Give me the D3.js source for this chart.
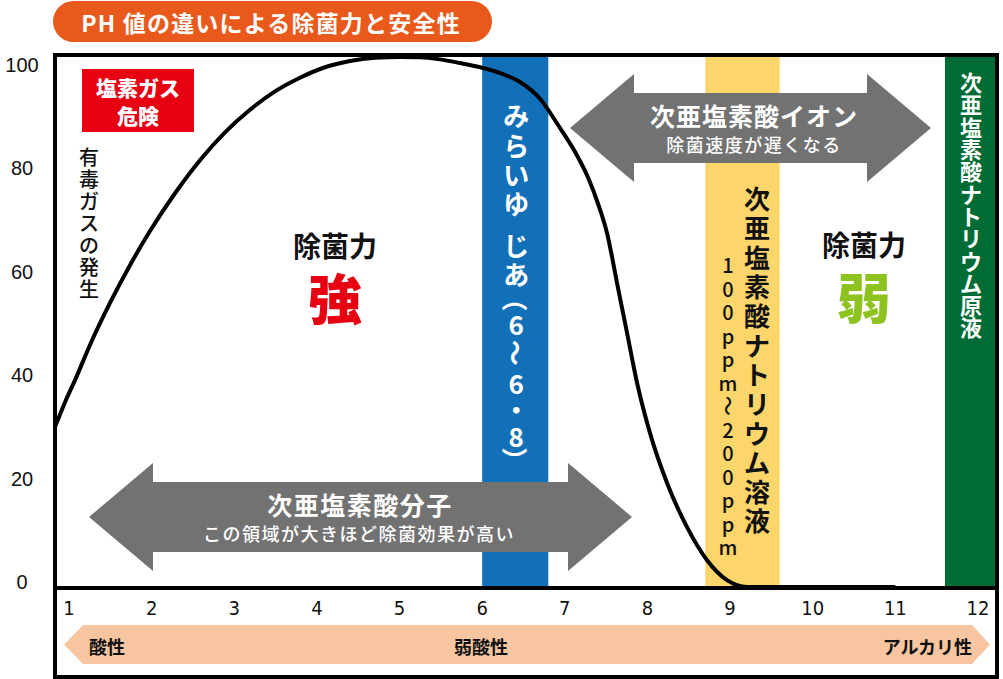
<!DOCTYPE html>
<html><head><meta charset="utf-8">
<script src="https://cdn.jsdelivr.net/npm/d3@7"></script>
<style>body{margin:0;background:#fff}svg{display:block}</style>
</head><body><svg id="c" width="1003" height="679"></svg>
<script>
// ---- data ----
const phTicks = [1,2,3,4,5,6,7,8,9,10,11,12];
const yTicks = [0,20,40,60,80,100];
const curvePH  = [0.831,0.952,1.073,1.254,1.496,1.738,1.980,2.283,2.585,2.888,3.190,3.493,3.795,4.098,4.400,4.703,5.006,5.248,5.490,5.732,5.974,6.216,6.458,6.700,6.918,7.123,7.281,7.402,7.511,7.632,7.753,7.874,8.031,8.237,8.479,8.721,8.963,9.205,10.0,11.0];
const curveVal = [30.5,35.2,39.4,46.1,54.1,61.3,67.8,75.0,81.3,86.6,90.9,94.4,97.0,99.0,100.2,100.8,100.95,100.9,100.5,99.8,99.0,97.9,96.2,93.0,88.0,82.9,78.0,73.0,67.4,57.9,48.4,38.9,29.3,19.8,11.4,5.1,1.3,0,0,0];
const bandNames = ["みらいゆ じあ（6〜6・8）","次亜塩素酸ナトリウム溶液","次亜塩素酸ナトリウム原液"];
const bandFrom = [6.0, 8.7, 11.6];
const bandTo   = [6.8, 9.6, 12.3];
const scaleNames = ["酸性","弱酸性","アルカリ性"];
const titleText = "PH 値の違いによる除菌力と安全性";

// ---- layout ----
const JP = "'Noto Sans CJK JP','Noto Sans',sans-serif";
const svg = d3.select("#c");
const frame = {l:55, t:55, r:997, b:677, div:588};
const x = d3.scaleLinear().domain([1,12]).range([69,978]);
const y = d3.scaleLinear().domain([0,100]).range([587,62]);
const yLab = d3.scaleLinear().domain([0,100]).range([582,65]);

svg.append("defs").append("clipPath").attr("id","plot")
  .append("rect").attr("x",frame.l).attr("y",frame.t).attr("width",frame.r-frame.l).attr("height",frame.div-frame.t);

// title
svg.append("rect").attr("x",53).attr("y",1).attr("width",439).attr("height",41).attr("rx",20.5).attr("fill","#E8591B");
svg.append("text").attr("x",271).attr("y",22).attr("text-anchor","middle").attr("dominant-baseline","central")
  .attr("font-family",JP).attr("font-weight",700).attr("font-size",23).attr("letter-spacing",1.2).attr("fill","#fff").text(titleText);

// bands
const bandColors = ["#1270B9","#FDD66B","#006B35"];
const bandG = svg.append("g").attr("clip-path","url(#plot)");
bandFrom.forEach((f,i)=>{
  bandG.append("rect").attr("x",x(f)).attr("y",frame.t).attr("width",x(bandTo[i])-x(f)).attr("height",frame.div-frame.t).attr("fill",bandColors[i]);
});

// curve
const pts = curvePH.map((p,i)=>[p,curveVal[i]]);
svg.append("path").attr("clip-path","url(#plot)")
  .attr("d", d3.line().x(d=>x(d[0])).y(d=>y(d[1])).curve(d3.curveMonotoneX)(pts))
  .attr("fill","none").attr("stroke","#000").attr("stroke-width",4).attr("stroke-linejoin","round");

// arrows
function dblArrow(x0,x1,cy,headLen,headH,shaftH,col){
  const p=[[x0,cy],[x0+headLen,cy-headH],[x0+headLen,cy-shaftH],[x1-headLen,cy-shaftH],[x1-headLen,cy-headH],[x1,cy],
           [x1-headLen,cy+headH],[x1-headLen,cy+shaftH],[x0+headLen,cy+shaftH],[x0+headLen,cy+headH]];
  svg.append("polygon").attr("points",p.map(d=>d.join(",")).join(" ")).attr("fill",col);
}
dblArrow(570,931,128,64,54,35,"#727272");
dblArrow(89,632,517,64,54,35,"#727272");

function txt(t,xx,yy,size,weight,fill,ls){
  return svg.append("text").attr("x",xx).attr("y",yy).attr("text-anchor","middle").attr("dominant-baseline","central")
   .attr("font-family",JP).attr("font-size",size).attr("font-weight",weight).attr("fill",fill)
   .attr("letter-spacing",ls||0).text(t);
}
txt("次亜塩素酸イオン",754,115,25,700,"#fff",1);
txt("除菌速度が遅くなる",754,144,18,500,"#fff",1.5);
txt("次亜塩素酸分子",360,504,25,700,"#fff",1.5);
txt("この領域が大きほど除菌効果が高い",359,533,18,500,"#fff",1.5);

// vertical text helper (stacked characters)
const rot = new Set(["（","）","〜","～","ー"]);
function vtext(str,xx,top,step,size,weight,fill,small){
  const chars=[...str]; let yy=top;
  chars.forEach(c=>{
    const a = (small && small[c]!==undefined) ? small[c] : 1;
    const cy = yy + a*step/2; yy += a*step;
    if(c===" ") return;
    const t = svg.append("text").attr("x",xx).attr("y",cy).attr("text-anchor","middle").attr("dominant-baseline","central")
      .attr("font-family",JP).attr("font-size",size).attr("font-weight",weight).attr("fill",fill).text(c);
    if(rot.has(c)) t.attr("transform",`rotate(90,${xx},${cy})`);
  });
}
vtext(bandNames[0],(x(bandFrom[0])+x(bandTo[0]))/2+1,100,29.4,26,700,"#fff",{" ":0.4,"（":0.7,"）":0.7,"・":0.8});
vtext(bandNames[1],757,183,29.3,26,700,"#111");
vtext("100ppm〜200ppm",728,253,23.5,20,500,"#111");
vtext(bandNames[2],971,70,22.3,22,700,"#fff");

// red box
svg.append("rect").attr("x",82).attr("y",69).attr("width",112).attr("height",63).attr("fill","#E60012");
txt("塩素ガス",138,87,21,900,"#fff");
txt("危険",138,115,21,900,"#fff");
vtext("有毒ガスの発生",89,145,22.1,20,500,"#111");

// strength labels
txt("除菌力",335,245,28,700,"#111");
txt("強",335,296,54,900,"#E60012");
txt("除菌力",864,244,28,700,"#111");
txt("弱",864,295,54,900,"#8DC21F");

// frame
svg.append("rect").attr("x",frame.l).attr("y",frame.t).attr("width",frame.r-frame.l).attr("height",frame.b-frame.t)
  .attr("fill","none").attr("stroke","#000").attr("stroke-width",4);
svg.append("line").attr("x1",frame.l).attr("x2",frame.r).attr("y1",frame.div).attr("y2",frame.div).attr("stroke","#000").attr("stroke-width",4);

// y axis labels
svg.append("g").selectAll("text").data(yTicks).join("text")
  .attr("x",22).attr("y",d=>yLab(d)).attr("text-anchor","middle").attr("dominant-baseline","central")
  .attr("font-family","'Liberation Sans',Arial,sans-serif").attr("font-size",20).attr("fill","#111").text(d=>d);

// x axis labels
svg.append("g").selectAll("text").data(phTicks).join("text")
  .attr("x",d=>x(d)).attr("y",608).attr("text-anchor","middle").attr("dominant-baseline","central")
  .attr("font-family","'Liberation Sans Narrow','DejaVu Sans Condensed',sans-serif").attr("font-size",20).attr("fill","#111").text(d=>d);

// bottom scale arrow
const ay0=625, ay1=664, amid=(ay0+ay1)/2;
svg.append("polygon").attr("points",[[64,amid],[83,ay0],[972,ay0],[990,amid],[972,ay1],[83,ay1]].map(d=>d.join(",")).join(" ")).attr("fill","#F7C6A0");
txt(scaleNames[0],107,646,18,700,"#111");
txt(scaleNames[1],481,646,18,700,"#111");
svg.append("text").attr("x",972).attr("y",646).attr("text-anchor","end").attr("dominant-baseline","central")
  .attr("font-family",JP).attr("font-size",18).attr("font-weight",700).attr("fill","#111").text(scaleNames[2]);
</script></body></html>
